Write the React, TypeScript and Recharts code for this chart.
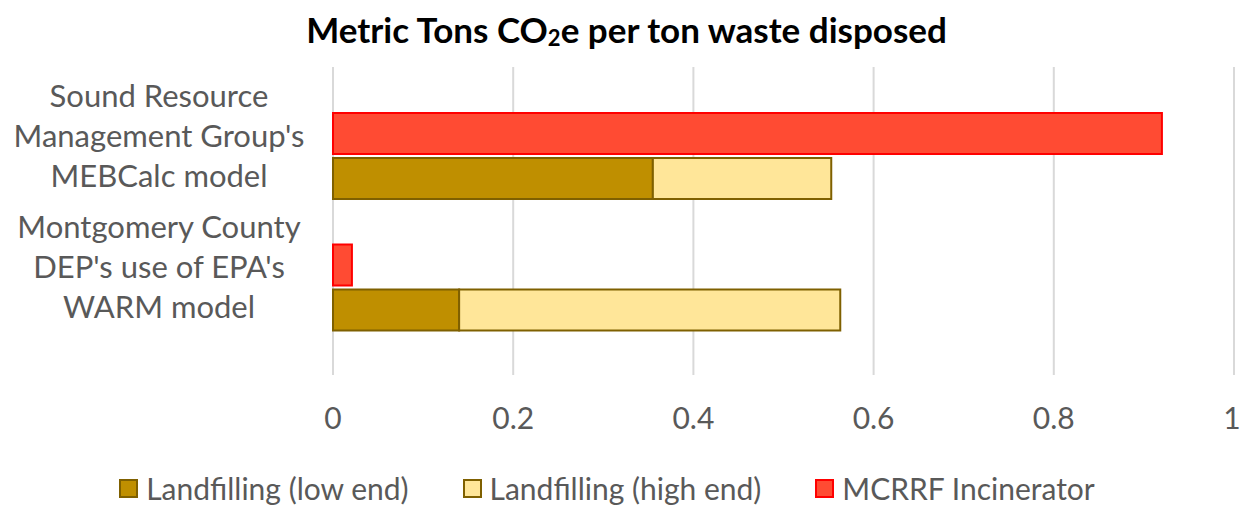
import React from 'react';
import {
  BarChart,
  Bar,
  XAxis,
  YAxis,
  CartesianGrid,
  Legend,
} from 'recharts';

// categories (top to bottom)
const categories = [
  "Sound Resource\nManagement Group's\nMEBCalc model",
  "Montgomery County\nDEP's use of EPA's\nWARM model",
];
// metric tons CO2e per ton waste disposed
const incinerator = [0.92, 0.021];
const landfillLow = [0.355, 0.14];
// high end minus low end (stacked on top of low end)
const landfillHighExtra = [0.198, 0.423];
const xTicks = [0, 0.2, 0.4, 0.6, 0.8, 1];

const seriesNames = ['Landfilling (low end)', 'Landfilling (high end)', 'MCRRF Incinerator'];
const seriesFill = ['#BF8F00', '#FFE699', '#FF4B33'];
const seriesStroke = ['#7F6000', '#7F6000', '#FF0000'];

const FONT = 'Lato, "Open Sans", sans-serif';
const TEXT = '#595959';

const data = categories.map((name, i) => ({
  name,
  incinerator: incinerator[i],
  low: landfillLow[i],
  high: landfillHighExtra[i],
}));

function CategoryTick(props: any) {
  const { y, payload } = props;
  const lines: string[] = String(payload.value).split('\n');
  return (
    <text textAnchor="middle" fill={TEXT} fontFamily={FONT} fontSize={31}>
      {lines.map((l, i) => (
        <tspan key={i} x={159} y={y - 9 + (i - 1) * 40}>
          {l}
        </tspan>
      ))}
    </text>
  );
}

function ValueTick(props: any) {
  const { x, y, payload } = props;
  return (
    <text x={Math.min(x, 1232)} y={y + 54} textAnchor="middle" fill={TEXT} fontFamily={FONT} fontSize={30}>
      {payload.value}
    </text>
  );
}

function LegendContent() {
  return (
    <div
      style={{
        display: 'flex',
        justifyContent: 'center',
        gap: 54,
        fontFamily: FONT,
        fontSize: 30,
        lineHeight: '36px',
        height: 36,
        color: TEXT,
        paddingRight: 20,
      }}
    >
      {seriesNames.map((n, i) => (
        <div key={n} style={{ display: 'flex', alignItems: 'center' }}>
          <span
            style={{
              display: 'inline-block',
              width: 15,
              height: 15,
              background: seriesFill[i],
              border: `2px solid ${seriesStroke[i]}`,
              marginRight: 8,
            }}
          />
          <span>{n}</span>
        </div>
      ))}
    </div>
  );
}

export default function App() {
  return (
    <div style={{ position: 'absolute', left: 0, top: 0, width: 1241, height: 506, background: '#fff' }}>
      <div
        style={{
          position: 'absolute',
          top: 8,
          left: 0,
          width: 1241,
          textAlign: 'center',
          fontFamily: FONT,
          fontWeight: 'bold',
          fontSize: 35,
          color: '#000',
          paddingLeft: 12,
          boxSizing: 'border-box',
        }}
      >
        Metric Tons CO<span style={{ fontSize: 22, verticalAlign: -3 }}>2</span>e per ton waste disposed
      </div>
      <BarChart
        width={1241}
        height={506}
        data={data}
        layout="vertical"
        margin={{ top: 67, right: 7, left: 0, bottom: 0 }}
        barSize={41}
        barGap={4}
        style={{ position: 'absolute', left: 0, top: 0 }}
      >
        <CartesianGrid horizontal={false} stroke="#D9D9D9" strokeWidth={2} />
        <XAxis
          type="number"
          domain={[0, 1]}
          ticks={xTicks}
          axisLine={false}
          tickLine={false}
          tickSize={0}
          tickMargin={0}
          height={95}
          tick={<ValueTick />}
        />
        <YAxis
          type="category"
          dataKey="name"
          width={333}
          axisLine={false}
          tickLine={false}
          padding={{ top: 23, bottom: 22 }}
          tick={<CategoryTick />}
          interval={0}
        />
        <Legend verticalAlign="bottom" height={36} content={<LegendContent />} />
        <Bar
          dataKey="incinerator"
          stackId="incinerator"
          name={seriesNames[2]}
          fill={seriesFill[2]}
          stroke={seriesStroke[2]}
          strokeWidth={2}
          isAnimationActive={false}
        />
        <Bar
          dataKey="low"
          stackId="landfill"
          name={seriesNames[0]}
          fill={seriesFill[0]}
          stroke={seriesStroke[0]}
          strokeWidth={2}
          isAnimationActive={false}
        />
        <Bar
          dataKey="high"
          stackId="landfill"
          name={seriesNames[1]}
          fill={seriesFill[1]}
          stroke={seriesStroke[1]}
          strokeWidth={2}
          isAnimationActive={false}
        />
      </BarChart>
    </div>
  );
}
